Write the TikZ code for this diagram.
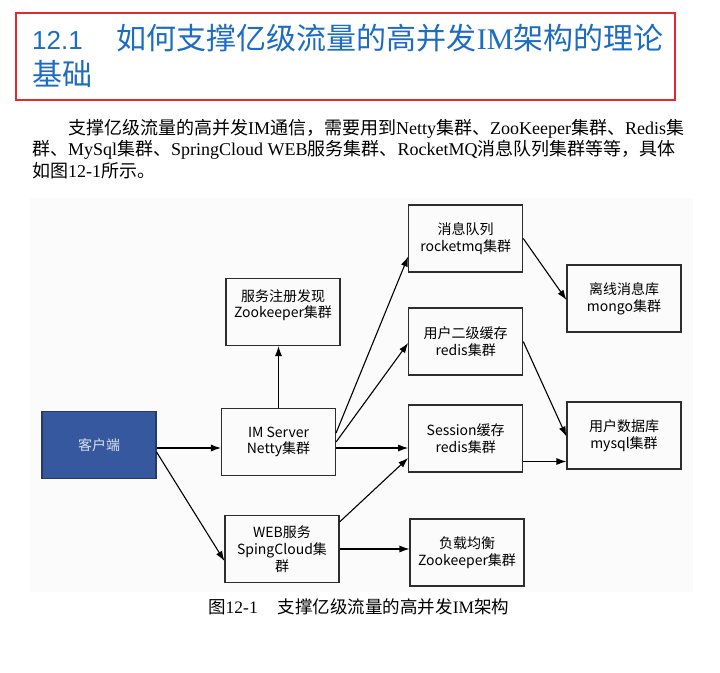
\documentclass[tikz,border=0pt]{standalone}
\usepackage{fontspec}
\setmainfont{Liberation Serif}
\newfontfamily\cjk{Noto Sans CJK SC}
\newfontfamily\headnum{Liberation Sans}
\usetikzlibrary{arrows.meta,calc}
\definecolor{headblue}{RGB}{28,108,196}
\definecolor{framered}{RGB}{232,38,44}
\definecolor{clientblue}{RGB}{53,88,158}
\definecolor{clientedge}{RGB}{40,58,98}
\definecolor{boxedge}{RGB}{45,45,45}
\tikzset{
  page/.style={
    head/.style={anchor=base west,inner sep=0pt,text=headblue,font={\fontsize{30}{36}\selectfont}},
    para/.style={anchor=base west,inner sep=0pt,font={\fontsize{18}{21.5}\selectfont}},
    frame/.style={draw=framered,line width=2pt},
  },
  arch/.style={
    unit/.style={draw=boxedge,line width=1.1pt,minimum width=114pt,minimum height=67pt,
      align=center,inner sep=2pt,font={\cjk\fontsize{14}{16.7}\selectfont}},
    client/.style={unit,fill=clientblue,draw=clientedge,text=white!82!clientblue},
    link/.style={line width=1.1pt,-{Latex[length=10pt,width=7pt]}},
  }
}

\begin{document}
\begin{tikzpicture}
[
    page,
    arch,
    x=1pt,
    y=-1pt,
]
    \useasboundingbox (0,0) rectangle (720,672);
    % heading
    \draw[frame] (16,13) rectangle (675,100);
    \node[head] (title1) at (32,49) {{\headnum\fontsize{26}{36}\selectfont 12.1}\hspace{34pt}{\cjk 如何支撑亿级流量的高并发}IM{\cjk 架构的理论}};
    \node[head] (title2) at (32,85) {\cjk 基础};
    % text
    \node[para] (line1) at (68,134) {{\cjk 支撑亿级流量的高并发}IM{\cjk 通信，需要用到}Netty{\cjk 集群、}ZooKeeper{\cjk 集群、}Redis{\cjk 集}};
    \node[para] (line2) at (32,155.5) {{\cjk 群、}MySql{\cjk 集群、}SpringCloud WEB{\cjk 服务集群、}RocketMQ{\cjk 消息队列集群等等，具体}};
    \node[para] (line3) at (32,177) {{\cjk 如图}12-1{\cjk 所示。}};

    % figure
    \fill[black!1.5] (30,198) rectangle (693,592);
    \node[client] (client) at (99,445) {客户端};
    \node[unit] (zk) at (283,312) {服务注册发现\\Zookeeper集群\\\mbox{}};
    \node[unit] (im) at (278.5,442) {IM Server\\Netty集群};
    \node[unit] (web) at (282,549) {WEB服务\\SpingCloud集\\群};
    \node[unit] (mq) at (465.7,238.5) {消息队列\\rocketmq集群};
    \node[unit] (rc) at (465.7,341.5) {用户二级缓存\\redis集群};
    \node[unit] (ss) at (465.7,438.5) {Session缓存\\redis集群};
    \node[unit] (lb) at (467,552.5) {负载均衡\\Zookeeper集群};
    \node[unit] (mg) at (624,298.5) {离线消息库\\mongo集群};
    \node[unit] (db) at (624,435.5) {用户数据库\\mysql集群};

    \draw[link] (im.north) -- (im.north |- zk.south);
    \foreach \a/\sa/\b/\sb in {client/-3/im/-6, client/-7/web/-12,
        im/9/mq/-18, im/0/rc/-1.5, im/-6/ss/-9.5,
        web/27/ss/-19.5, web/0/lb/3.5,
        mq/0/mg/-1.5, rc/0/db/-1, ss/-23/db/-26}
    {
        \draw[link] ([yshift=\sa pt]\a.east) -- ([yshift=\sb pt]\b.west);
    }

    \node[para,font={\fontsize{17.5}{21}\selectfont}] (caption) at (208,613) {{\cjk 图}12-1\hspace{20pt}{\cjk 支撑亿级流量的高并发}IM{\cjk 架构}};
\end{tikzpicture}
\end{document}
